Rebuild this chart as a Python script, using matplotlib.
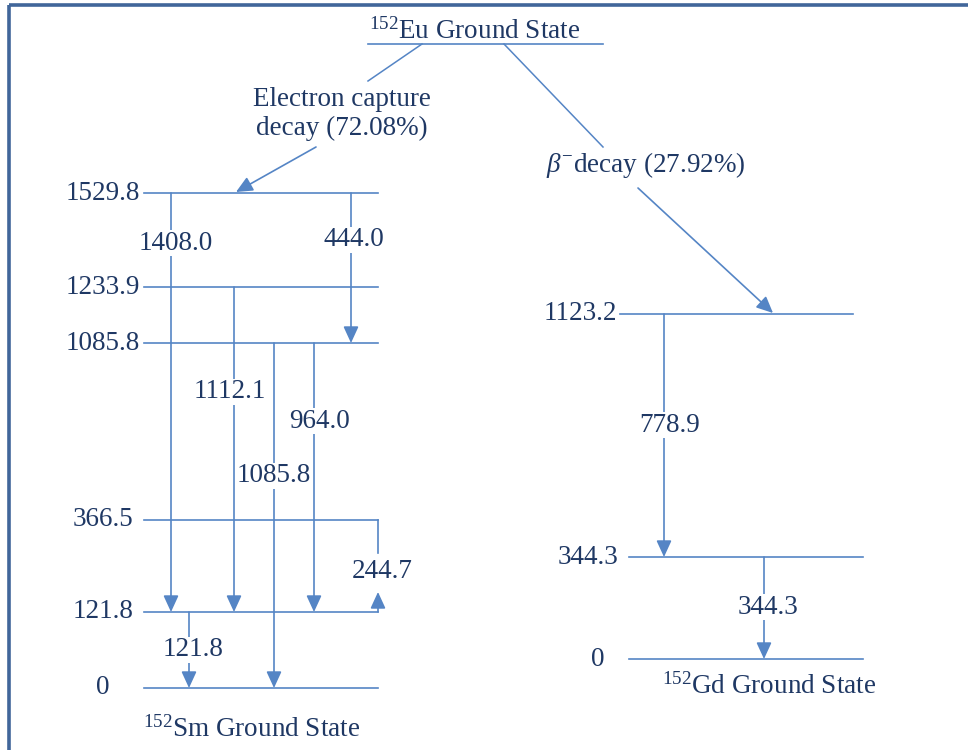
"""
152Eu decay scheme: EC branch to 152Sm, beta- branch to 152Gd.
Drawn on a pixel-sized canvas (schematic, level spacing is not to scale).
"""
import matplotlib
matplotlib.use("Agg")
import matplotlib.pyplot as plt

# ---- data ---------------------------------------------------------------
ec_branch = 72.08
beta_branch = 27.92

sm_levels = [1529.8, 1233.9, 1085.8, 366.5, 121.8, 0.0]
gd_levels = [1123.2, 344.3, 0.0]

sm_gamma_from = [1529.8, 1529.8, 1233.9, 1085.8, 1085.8, 121.8, 366.5]
sm_gamma_to = [121.8, 1085.8, 121.8, 0.0, 121.8, 0.0, 121.8]
sm_gamma_kev = [1408.0, 444.0, 1112.1, 1085.8, 964.0, 121.8, 244.7]

gd_gamma_from = [1123.2, 344.3]
gd_gamma_to = [344.3, 0.0]
gd_gamma_kev = [778.9, 344.3]

# ---- layout (pixels, schematic) -----------------------------------------
sm_level_y = [193, 287, 343, 520, 612, 688]
sm_level_x = (144, 378)
sm_label_x = 103

gd_level_y = [314, 557, 659]
gd_level_x = [(620, 853), (629, 863), (629, 863)]
gd_label_x = [580, 588, 598]

sm_gamma_x = [171, 351, 234, 274, 314, 189, 378]
sm_gamma_lbl = [(176, 243), (354, 240), (230, 392), (274, 476),
                (319, 421), (193, 650), (382, 572)]
gd_gamma_x = [664, 764]
gd_gamma_lbl = [(670, 425), (768, 607)]

LINE = "#5585c5"
TEXT = "#1f3864"
BORDER = "#41669a"
FS = 19.5

plt.rcParams["font.family"] = ["Liberation Serif", "DejaVu Serif"]
plt.rcParams["mathtext.fontset"] = "custom"
plt.rcParams["mathtext.rm"] = "Liberation Serif"
plt.rcParams["mathtext.it"] = "Liberation Serif:italic"

fig = plt.figure(figsize=(9.68, 7.5), dpi=100)
ax = fig.add_axes([0, 0, 1, 1])
ax.set_xlim(0, 968)
ax.set_ylim(750, 0)
ax.axis("off")

# frame (top and left edges only)
ax.plot([9, 968], [5, 5], color=BORDER, lw=2.6, solid_capstyle="butt")
ax.plot([9, 9], [5, 750], color=BORDER, lw=2.6, solid_capstyle="butt")


def fmt(e):
    return "0" if e == 0 else f"{e:.1f}"


def arrow(x0, y0, x1, y1):
    ax.annotate("", xy=(x1, y1), xytext=(x0, y0),
                arrowprops=dict(arrowstyle="-|>,head_length=0.5,head_width=0.23",
                                color=LINE, lw=1.2, shrinkA=0, shrinkB=0,
                                mutation_scale=20))


def gamma_label(x, y, e):
    ax.text(x, y, fmt(e), ha="center", va="center", fontsize=FS, color=TEXT,
            bbox=dict(facecolor="white", edgecolor="none", pad=0.5))


# parent level
ax.plot([368, 603], [44, 44], color=LINE, lw=1.2)
ax.text(475, 31, r"$^{152}$Eu Ground State", ha="center", va="center",
        fontsize=FS, color=TEXT)

# EC branch
ax.plot([422, 368], [44, 81], color=LINE, lw=1.1)
ax.text(342, 114, f"Electron capture\ndecay ({ec_branch:.2f}%)", ha="center",
        va="center", fontsize=FS, color=TEXT, linespacing=1.15)
arrow(316, 147, 236, 192)

# beta- branch
ax.plot([504, 603], [44, 147], color=LINE, lw=1.1)
ax.text(646, 165, r"$\beta^{-}$decay" + f" ({beta_branch:.2f}%)", ha="center",
        va="center", fontsize=FS, color=TEXT)
arrow(638, 188, 773, 313)

# Sm levels
sm_y = dict(zip(sm_levels, sm_level_y))
for e, y in zip(sm_levels, sm_level_y):
    ax.plot(sm_level_x, [y, y], color=LINE, lw=1.2)
    ax.text(sm_label_x, y, fmt(e), ha="center", va="center", fontsize=FS,
            color=TEXT)

for e0, e1, eg, x, (lx, ly) in zip(sm_gamma_from, sm_gamma_to, sm_gamma_kev,
                                   sm_gamma_x, sm_gamma_lbl):
    y0, y1 = sm_y[e0], sm_y[e1]
    if e0 == 366.5:
        # drawn from the right end of the level, arrowhead turned upward
        ax.plot([x, x], [y0, y0 + 33], color=LINE, lw=1.2)
        arrow(x, y1, x, y1 - 20)
    else:
        arrow(x, y0, x, y1)
    gamma_label(lx, ly, eg)

ax.text(252, 729, r"$^{152}$Sm Ground State", ha="center", va="center",
        fontsize=FS, color=TEXT)

# Gd levels
gd_y = dict(zip(gd_levels, gd_level_y))
for e, y, (xa, xb), lx in zip(gd_levels, gd_level_y, gd_level_x, gd_label_x):
    ax.plot([xa, xb], [y, y], color=LINE, lw=1.2)
    ax.text(lx, y, fmt(e), ha="center", va="center", fontsize=FS, color=TEXT)

for e0, e1, eg, x, (lx, ly) in zip(gd_gamma_from, gd_gamma_to, gd_gamma_kev,
                                   gd_gamma_x, gd_gamma_lbl):
    arrow(x, gd_y[e0], x, gd_y[e1])
    gamma_label(lx, ly, eg)

ax.text(769, 686, r"$^{152}$Gd Ground State", ha="center", va="center",
        fontsize=FS, color=TEXT)

fig.savefig("out.png", dpi=100)
